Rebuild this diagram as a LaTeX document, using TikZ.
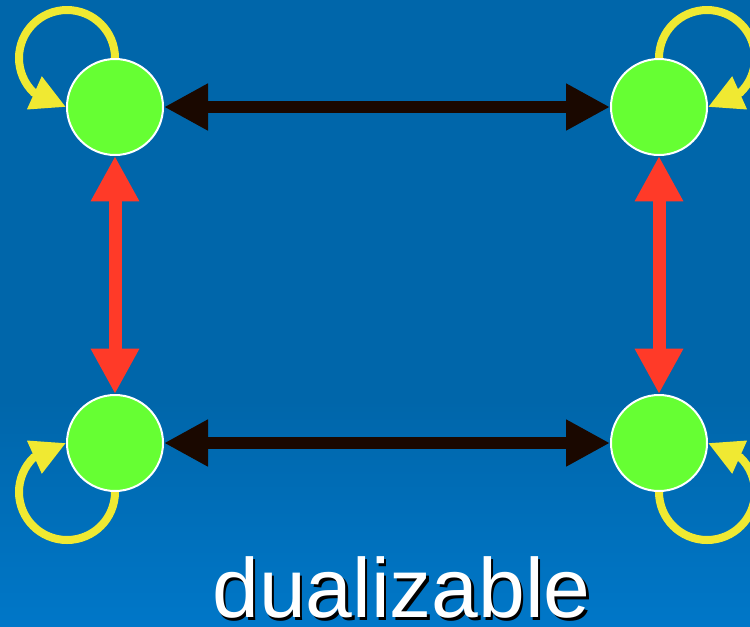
\documentclass[tikz,border=0pt]{standalone}
\usepackage{fontspec}
\setmainfont{Liberation Sans}
\usetikzlibrary{arrows.meta}
\definecolor{bgtop}{RGB}{0,102,170}
\definecolor{bgbot}{RGB}{0,119,200}
\definecolor{nodegreen}{RGB}{102,255,51}
\definecolor{linkred}{RGB}{255,58,40}
\definecolor{linkdark}{RGB}{26,8,0}
\definecolor{loopyellow}{RGB}{240,233,50}
\pgfdeclarelayer{bg}
\pgfdeclarelayer{loops}
\pgfsetlayers{bg,loops,main}
\begin{document}
\begin{tikzpicture}[x=0.75pt,y=0.75pt,
  state/.style={circle,fill=nodegreen,draw=white,line width=1.5pt,
    minimum size=72pt,inner sep=0pt},
  hlink/.style={draw=linkdark,line width=9pt,
    {Triangle[length=33pt,width=33pt]}-{Triangle[length=33pt,width=33pt]}},
  vlink/.style={draw=linkred,line width=9.75pt,
    {Triangle[length=34pt,width=34pt]}-{Triangle[length=34pt,width=34pt]}},
  selfloop/.style={draw=loopyellow,line width=6pt,
    -{Triangle[length=26pt,width=25.5pt]}},
  caption/.style={font=\fontsize{63pt}{63pt}\selectfont,anchor=base,inner sep=0pt}
]
% frame and background
\useasboundingbox (0,0) rectangle (750,-626);
\clip (0,0) rectangle (750,-626);
\begin{pgfonlayer}{bg}
  \fill[bgtop] (0,0) rectangle (750,-626);
  \shade[top color=bgtop,bottom color=bgbot] (0,-400) rectangle (750,-626);
\end{pgfonlayer}

% the four states
\node[state] (tl) at (115,-107) {};
\node[state] (tr) at (659,-107) {};
\node[state] (bl) at (115,-443) {};
\node[state] (br) at (659,-443) {};

% two-way links
\draw[hlink] (tl) -- (tr);
\draw[hlink] (bl) -- (br);
\draw[vlink] (tl) -- (bl);
\draw[vlink] (tr) -- (br);

% self loops, kept behind the states
\begin{pgfonlayer}{loops}
  \draw[selfloop] (tl.north) arc[start angle=0,end angle=226,radius=48] -- (tl.west);
  \draw[selfloop] (tr.north) arc[start angle=180,end angle=-46,radius=48] -- (tr.east);
  \draw[selfloop] (bl.south) arc[start angle=0,end angle=-226,radius=48] -- (bl.west);
  \draw[selfloop] (br.south) arc[start angle=180,end angle=406,radius=48] -- (br.east);
\end{pgfonlayer}

% caption with drop shadow
\node[caption,text=black] (captionshadow) at (404,-620) {dualizable};
\node[caption,text=white] (captiontext) at (401.5,-617) {dualizable};
\end{tikzpicture}
\end{document}
